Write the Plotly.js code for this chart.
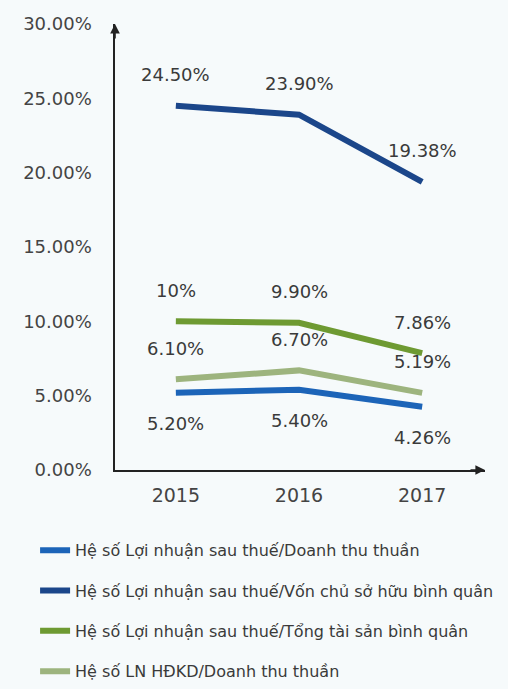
<!DOCTYPE html>
<html>
<head>
<meta charset="utf-8">
<script src="https://cdn.plot.ly/plotly-3.0.1.min.js"></script>
<style>html,body{margin:0;padding:0;background:#f6fafb;}#chart{width:508px;height:689px;}</style>
</head>
<body>
<div id="chart"></div>
<script>
const years = ['2015', '2016', '2017'];
const seriesNames = [
  'Hệ số Lợi nhuận sau thuế/Doanh thu thuần',
  'Hệ số Lợi nhuận sau thuế/Vốn chủ sở hữu bình quân',
  'Hệ số Lợi nhuận sau thuế/Tổng tài sản bình quân',
  'Hệ số LN HĐKD/Doanh thu thuần'
];
const lnstDTT = [5.20, 5.40, 4.26];
const lnstVCSH = [24.50, 23.90, 19.38];
const lnstTTS = [10.00, 9.90, 7.86];
const hdkdDTT = [6.10, 6.70, 5.19];
const labelsDTT = ['5.20%', '5.40%', '4.26%'];
const labelsVCSH = ['24.50%', '23.90%', '19.38%'];
const labelsTTS = ['10%', '9.90%', '7.86%'];
const labelsHDKD = ['6.10%', '6.70%', '5.19%'];
const yTicks = [0, 5, 10, 15, 20, 25, 30];

const series = [
  {name: seriesNames[0], y: lnstDTT, labels: labelsDTT, color: '#1c64b8', shift: -31},
  {name: seriesNames[1], y: lnstVCSH, labels: labelsVCSH, color: '#1b468a', shift: 31},
  {name: seriesNames[2], y: lnstTTS, labels: labelsTTS, color: '#6e9a32', shift: 31},
  {name: seriesNames[3], y: hdkdDTT, labels: labelsHDKD, color: '#9db47e', shift: 31}
];

const FONT = 'DejaVu Sans, Arial, sans-serif';
const traces = series.map((s, i) => ({
  type: 'scatter', mode: 'lines', x: years, y: s.y, name: s.name,
  legendgroup: 'g' + i,
  line: {color: s.color, width: 6},
  hoverinfo: 'skip'
}));

const annotations = [];
series.forEach(s => {
  s.y.forEach((v, j) => {
    annotations.push({x: years.indexOf(years[j]), y: v, xref: 'x', yref: 'y', text: s.labels[j],
      showarrow: false, yshift: s.shift, font: {family: FONT, size: 18, color: '#3a3a3a'}});
  });
});
// axis arrowheads
annotations.push({xref: 'paper', yref: 'paper', x: 0, y: 1, ax: 0, ay: 16, text: '',
  showarrow: true, arrowhead: 2, arrowsize: 1.2, arrowwidth: 1.6, arrowcolor: '#222', standoff: 0});
annotations.push({xref: 'paper', yref: 'paper', x: 1, y: 0, ax: -16, ay: 0, text: '',
  showarrow: true, arrowhead: 2, arrowsize: 1.2, arrowwidth: 1.6, arrowcolor: '#222', standoff: 0});

const layout = {
  width: 508, height: 689,
  margin: {l: 115, r: 23, t: 24, b: 219, autoexpand: false},
  paper_bgcolor: '#f6fafb', plot_bgcolor: 'rgba(0,0,0,0)',
  showlegend: true,
  legend: {orientation: 'v', x: -0.216, xanchor: 'left', y: -0.142, yanchor: 'top',
    font: {family: FONT, size: 16, color: '#3a3a3a'}, tracegroupgap: 16.5,
    bgcolor: 'rgba(0,0,0,0)'},
  xaxis: {type: 'category', range: [-0.494, 2.51], showgrid: false, zeroline: false,
    showline: true, linecolor: '#222', linewidth: 1.6, ticks: '', ticklabelstandoff: 8,
    tickfont: {family: FONT, size: 19, color: '#444'}, fixedrange: true},
  yaxis: {range: [0, 30], tickvals: yTicks, ticktext: yTicks.map(v => v.toFixed(2) + '%'),
    showgrid: false, zeroline: false, showline: true, linecolor: '#222', linewidth: 1.6,
    ticks: '', ticklabelstandoff: 18,
    tickfont: {family: FONT, size: 18, color: '#444'}, fixedrange: true},
  annotations: annotations
};

Plotly.newPlot('chart', traces, layout, {staticPlot: true});
</script>
</body>
</html>
